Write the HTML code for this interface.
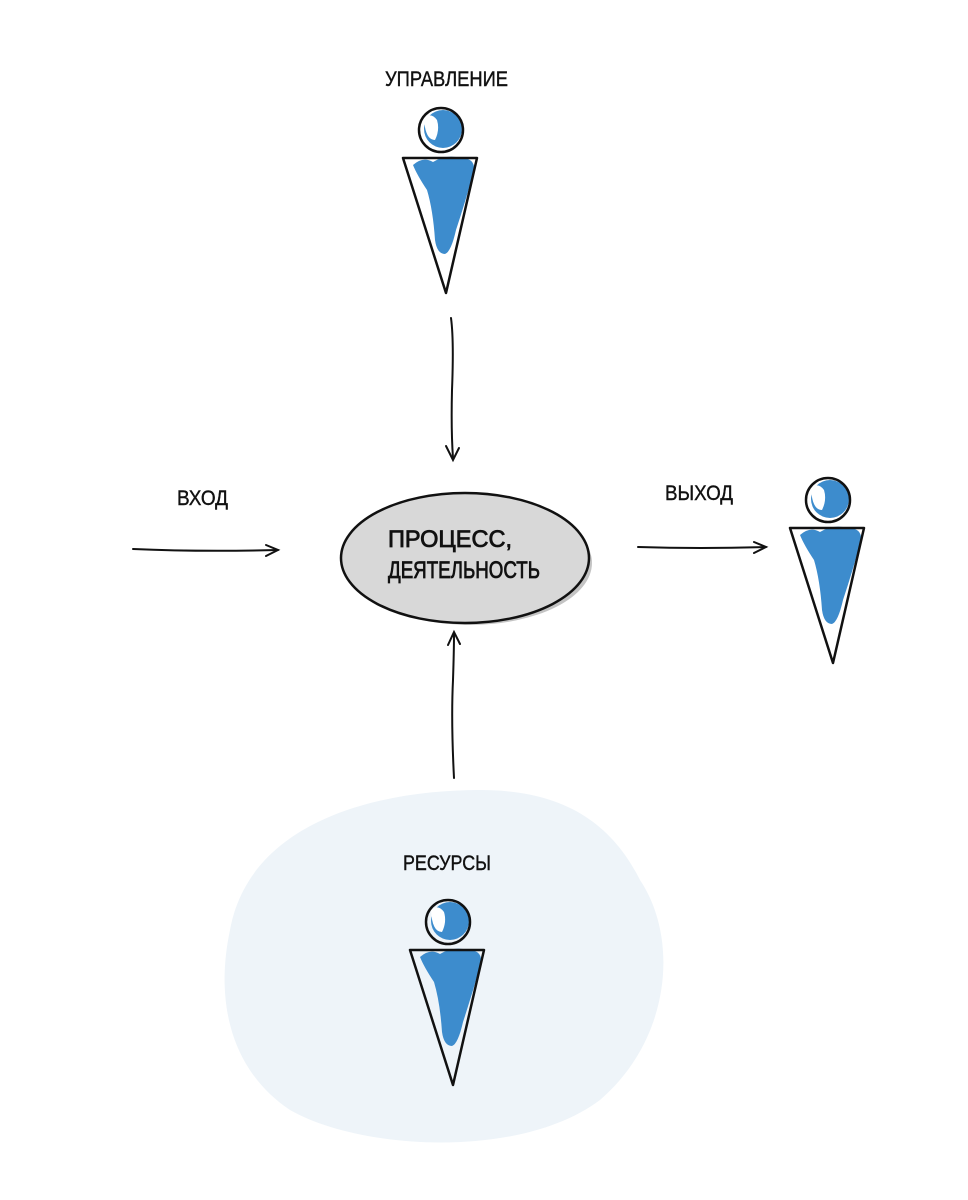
<!DOCTYPE html>
<html><head><meta charset="utf-8"><style>body{margin:0;background:#fff}svg{display:block}text{font-family:"Liberation Sans",sans-serif;fill:#111}</style></head><body>
<svg width="968" height="1200" viewBox="0 0 968 1200" xmlns="http://www.w3.org/2000/svg">
<defs>
<g id="p">
<circle cx="2" cy="-1" r="19" fill="#3d8ccd"/>
<path d="M-17,-12 Q-10,-18 -4,-10 Q-1,0 -6,10 Q-16,10 -17,-12Z" fill="#fff"/>
<circle cx="0" cy="0" r="22" fill="none" stroke="#111" stroke-width="2.5"/>
<path d="M-28,35 Q-18,26 -8,32 Q5,24 20,28 Q34,28 33,40 Q25,70 15,100 Q10,122 4,124 Q-4,124 -6,110 Q-8,80 -14,60 Q-24,45 -28,35Z" fill="#3d8ccd"/>
<path d="M-38,28 L36,28 L5,163 Z" fill="none" stroke="#111" stroke-width="2.5" stroke-linejoin="round"/>
</g>
</defs>
<path d="M230,930 C250,820 380,790 480,790 C560,790 610,820 640,880 C680,940 670,1040 600,1100 C520,1160 360,1150 290,1110 C230,1070 215,1000 230,930Z" fill="#eef4f9"/>
<use href="#p" x="441" y="130"/>
<use href="#p" x="828" y="500"/>
<use href="#p" x="448" y="922"/>
<ellipse cx="470" cy="563" rx="122" ry="62" fill="#c4c4c4"/>
<ellipse cx="465" cy="558" rx="124" ry="65" fill="#d8d8d8" stroke="#111" stroke-width="2.5"/>
<g fill="none" stroke="#111" stroke-width="2" stroke-linecap="round">
<path d="M451,318 Q454,340 452,390 Q451,430 453,458"/><path d="M446,446 L453,460 L459,448"/>
<path d="M454,778 Q451,720 453,680 Q454,650 454,634"/><path d="M448,645 L454,632 L460,644"/>
<path d="M133,549 Q200,552 278,550"/><path d="M266,545 L278,550 L266,556"/>
<path d="M638,547 Q700,549 766,547"/><path d="M754,542 L766,547 L754,553"/>
</g>
<g stroke="#111" stroke-width="0.4">
<text x="385" y="86" font-size="21" textLength="123" lengthAdjust="spacingAndGlyphs">УПРАВЛЕНИЕ</text>
<text x="177" y="505" font-size="21" textLength="51" lengthAdjust="spacingAndGlyphs">ВХОД</text>
<text x="665" y="500" font-size="21" textLength="68" lengthAdjust="spacingAndGlyphs">ВЫХОД</text>
<text x="403" y="870" font-size="21" textLength="88" lengthAdjust="spacingAndGlyphs">РЕСУРСЫ</text>
</g>
<g stroke="#111" stroke-width="0.8">
<text x="388" y="547" font-size="24" textLength="124" lengthAdjust="spacingAndGlyphs">ПРОЦЕСС,</text>
<text x="388" y="578" font-size="24" textLength="152" lengthAdjust="spacingAndGlyphs">ДЕЯТЕЛЬНОСТЬ</text>
</g>
</svg>
</body></html>
